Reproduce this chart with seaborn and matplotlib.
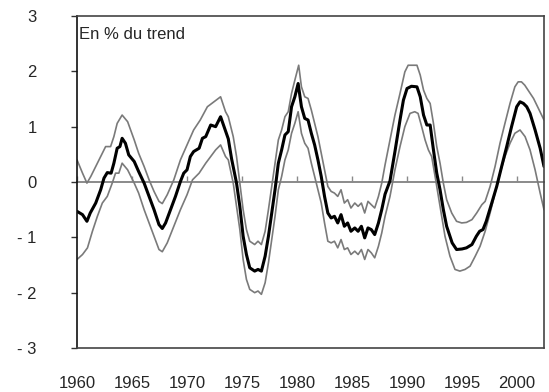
import matplotlib
matplotlib.use("Agg")
import matplotlib.pyplot as plt
import seaborn as sns
import pandas as pd

# Cycle estimate (% deviation from trend) and its upper / lower bands
central_year = [1960.0, 1960.5, 1960.9, 1961.2, 1961.7, 1962.15, 1962.45, 1962.75, 1963.1, 1963.35,
                1963.65, 1963.9, 1964.1, 1964.4, 1964.7, 1965.2, 1965.6, 1966.1, 1966.55, 1967.0,
                1967.45, 1967.75, 1968.05, 1968.5, 1968.95, 1969.4, 1969.7, 1970.0, 1970.3, 1970.6,
                1971.1, 1971.4, 1971.7, 1972.15, 1972.6, 1973.05, 1973.4, 1973.75, 1974.05, 1974.5,
                1974.8, 1975.1, 1975.4, 1975.7, 1976.15, 1976.45, 1976.76, 1977.1, 1977.4, 1977.7,
                1978.0, 1978.3, 1978.6, 1978.9, 1979.2, 1979.5, 1979.8, 1980.1, 1980.4, 1980.7,
                1981.0, 1981.3, 1981.6, 1981.9, 1982.2, 1982.5, 1982.8, 1983.1, 1983.4, 1983.7,
                1984.0, 1984.3, 1984.6, 1984.9, 1985.25, 1985.55, 1985.85, 1986.15, 1986.45, 1986.75,
                1987.06, 1987.4, 1987.7, 1988.0, 1988.45, 1988.9, 1989.36, 1989.67, 1990.0, 1990.4,
                1990.9, 1991.2, 1991.5, 1991.8, 1992.1, 1992.4, 1992.7, 1993.0, 1993.3, 1993.6,
                1994.1, 1994.5, 1995.0, 1995.4, 1995.9, 1996.3, 1996.6, 1996.9, 1997.2, 1997.7,
                1998.15, 1998.6, 1999.06, 1999.5, 1999.97, 2000.27, 2000.58, 2000.88, 2001.18, 2001.64,
                2002.1, 2002.45]
central = [-0.53, -0.59, -0.71, -0.56, -0.38, -0.14, 0.07, 0.17, 0.16, 0.34,
           0.61, 0.64, 0.79, 0.70, 0.49, 0.37, 0.19, -0.02, -0.26, -0.50,
           -0.77, -0.84, -0.74, -0.50, -0.26, 0.01, 0.16, 0.22, 0.46, 0.55,
           0.61, 0.79, 0.82, 1.03, 1.00, 1.18, 0.98, 0.78, 0.42, -0.02,
           -0.44, -0.98, -1.31, -1.55, -1.61, -1.58, -1.61, -1.34, -0.98, -0.56,
           -0.14, 0.34, 0.58, 0.85, 0.91, 1.36, 1.54, 1.78, 1.36, 1.15,
           1.12, 0.88, 0.67, 0.40, 0.10, -0.26, -0.56, -0.65, -0.62, -0.74,
           -0.59, -0.80, -0.74, -0.89, -0.83, -0.89, -0.80, -1.01, -0.83, -0.86,
           -0.95, -0.74, -0.50, -0.22, 0.02, 0.55, 1.12, 1.48, 1.69, 1.73,
           1.72, 1.54, 1.21, 1.03, 1.03, 0.58, 0.16, -0.14, -0.50, -0.80,
           -1.10, -1.22, -1.21, -1.19, -1.13, -0.98, -0.89, -0.86, -0.71, -0.38,
           -0.08, 0.28, 0.64, 1.00, 1.36, 1.45, 1.42, 1.36, 1.24, 0.94,
           0.61, 0.28]

upper_year = [1960.0, 1960.5, 1960.9, 1961.25, 1961.7, 1962.15, 1962.6, 1963.05, 1963.35, 1963.65,
              1964.1, 1964.6, 1965.2, 1965.6, 1966.1, 1966.55, 1967.0, 1967.45, 1967.75, 1968.2,
              1968.8, 1969.4, 1970.0, 1970.6, 1971.2, 1971.85, 1972.45, 1973.05, 1973.5, 1973.75,
              1974.2, 1974.5, 1974.8, 1975.1, 1975.4, 1975.7, 1976.15, 1976.45, 1976.76, 1977.1,
              1977.4, 1977.7, 1978.0, 1978.3, 1978.6, 1978.9, 1979.2, 1979.5, 1979.8, 1980.15,
              1980.4, 1980.7, 1981.0, 1981.3, 1981.6, 1981.9, 1982.2, 1982.5, 1982.8, 1983.1,
              1983.4, 1983.7, 1984.0, 1984.3, 1984.6, 1984.9, 1985.25, 1985.55, 1985.85, 1986.15,
              1986.45, 1986.75, 1987.06, 1987.4, 1987.7, 1988.0, 1988.45, 1988.9, 1989.36, 1989.8,
              1990.1, 1990.55, 1990.9, 1991.2, 1991.5, 1991.8, 1992.1, 1992.4, 1992.7, 1993.0,
              1993.3, 1993.6, 1994.06, 1994.5, 1994.97, 1995.4, 1995.9, 1996.33, 1996.8, 1997.1,
              1997.55, 1998.0, 1998.45, 1998.9, 1999.36, 1999.8, 2000.1, 2000.4, 2000.7, 2001.0,
              2001.5, 2001.94, 2002.45]
upper = [0.40, 0.16, -0.02, 0.10, 0.28, 0.46, 0.64, 0.64, 0.82, 1.06,
         1.21, 1.09, 0.76, 0.52, 0.28, 0.04, -0.17, -0.35, -0.39, -0.23,
         0.04, 0.40, 0.67, 0.94, 1.12, 1.36, 1.45, 1.54, 1.27, 1.18,
         0.82, 0.46, -0.02, -0.50, -0.86, -1.07, -1.13, -1.07, -1.13, -0.89,
         -0.50, -0.08, 0.34, 0.76, 0.94, 1.18, 1.27, 1.60, 1.84, 2.11,
         1.72, 1.54, 1.51, 1.30, 1.06, 0.82, 0.52, 0.22, -0.08, -0.17,
         -0.20, -0.26, -0.14, -0.38, -0.32, -0.47, -0.38, -0.44, -0.38, -0.56,
         -0.35, -0.41, -0.47, -0.26, -0.02, 0.31, 0.76, 1.21, 1.60, 1.99,
         2.11, 2.11, 2.11, 1.93, 1.66, 1.51, 1.42, 1.06, 0.64, 0.34,
         -0.02, -0.32, -0.56, -0.71, -0.74, -0.73, -0.68, -0.56, -0.41, -0.35,
         -0.08, 0.28, 0.70, 1.06, 1.42, 1.72, 1.81, 1.81, 1.75, 1.66,
         1.51, 1.33, 1.12]

lower_year = [1960.0, 1960.5, 1960.95, 1961.4, 1961.85, 1962.3, 1962.75, 1963.2, 1963.5, 1963.8,
              1964.1, 1964.6, 1965.2, 1965.6, 1966.1, 1966.55, 1967.0, 1967.45, 1967.75, 1968.2,
              1968.8, 1969.4, 1970.0, 1970.5, 1971.1, 1971.7, 1972.15, 1972.6, 1973.05, 1973.5,
              1973.75, 1974.2, 1974.5, 1974.8, 1975.1, 1975.4, 1975.7, 1976.15, 1976.45, 1976.76,
              1977.1, 1977.4, 1977.7, 1978.0, 1978.3, 1978.6, 1978.9, 1979.2, 1979.5, 1979.8,
              1980.1, 1980.4, 1980.7, 1981.0, 1981.3, 1981.6, 1981.9, 1982.2, 1982.5, 1982.8,
              1983.1, 1983.4, 1983.7, 1984.0, 1984.3, 1984.6, 1984.9, 1985.25, 1985.55, 1985.85,
              1986.15, 1986.45, 1986.75, 1987.06, 1987.4, 1987.7, 1988.0, 1988.45, 1988.9, 1989.36,
              1989.8, 1990.27, 1990.7, 1991.0, 1991.33, 1991.64, 1991.94, 1992.24, 1992.55, 1992.85,
              1993.15, 1993.45, 1993.9, 1994.36, 1994.8, 1995.27, 1995.73, 1996.2, 1996.64, 1997.1,
              1997.55, 1998.0, 1998.45, 1998.9, 1999.36, 1999.8, 2000.27, 2000.73, 2001.18, 2001.64,
              2002.1, 2002.45]
lower = [-1.40, -1.31, -1.19, -0.89, -0.62, -0.38, -0.26, -0.02, 0.16, 0.16,
         0.34, 0.22, -0.02, -0.20, -0.50, -0.74, -0.98, -1.22, -1.26, -1.10,
         -0.80, -0.50, -0.23, 0.04, 0.16, 0.34, 0.46, 0.58, 0.67, 0.46,
         0.40, -0.02, -0.44, -0.86, -1.40, -1.76, -1.94, -2.00, -1.97, -2.03,
         -1.82, -1.46, -1.04, -0.62, -0.14, 0.10, 0.40, 0.58, 0.88, 1.06,
         1.27, 0.88, 0.70, 0.61, 0.34, 0.10, -0.14, -0.38, -0.74, -1.07,
         -1.10, -1.07, -1.19, -1.04, -1.22, -1.19, -1.31, -1.25, -1.31, -1.22,
         -1.40, -1.22, -1.28, -1.37, -1.16, -0.92, -0.62, -0.26, 0.22, 0.64,
         1.00, 1.24, 1.27, 1.24, 1.00, 0.76, 0.58, 0.46, 0.10, -0.26,
         -0.62, -0.98, -1.34, -1.58, -1.61, -1.58, -1.52, -1.34, -1.16, -0.89,
         -0.56, -0.20, 0.16, 0.46, 0.70, 0.88, 0.94, 0.82, 0.58, 0.22,
         -0.20, -0.50]

x_ticks = [1960, 1965, 1970, 1975, 1980, 1985, 1990, 1995, 2000]
y_ticks = [-3, -2, -1, 0, 1, 2, 3]
y_labels = ["- 3", "- 2", "- 1", "0", "1", "2", "3"]
annotation = "En % du trend"

sns.set_style("white")
plt.rcParams["font.family"] = ["Liberation Sans", "DejaVu Sans"]

df_c = pd.DataFrame({"year": central_year, "value": central})
df_u = pd.DataFrame({"year": upper_year, "value": upper})
df_l = pd.DataFrame({"year": lower_year, "value": lower})

fig = plt.figure(figsize=(5.49, 3.92), dpi=100)
ax = fig.add_axes([0.1403, 0.1122, 0.8506, 0.8470])

band_color = "#7a7a7a"
sns.lineplot(data=df_u, x="year", y="value", ax=ax, color=band_color, lw=1.2, estimator=None)
sns.lineplot(data=df_l, x="year", y="value", ax=ax, color=band_color, lw=1.2, estimator=None)
sns.lineplot(data=df_c, x="year", y="value", ax=ax, color="black", lw=2.2, estimator=None)

ax.set_xlim(1960, 2002.45)
ax.set_ylim(-3, 3)
ax.set_xlabel("")
ax.set_ylabel("")

# y axis: ticks outside on the left frame
ax.set_yticks(y_ticks, labels=y_labels)
ax.tick_params(axis="y", direction="out", length=4, width=1, color="#333333",
               pad=25, labelsize=12, left=True)

# x labels sit well below the frame; the ticks themselves are on the zero line
ax.set_xticks(x_ticks, labels=[str(y) for y in x_ticks])
ax.tick_params(axis="x", length=0, pad=20, labelsize=12)

zero_axis = ax.secondary_xaxis(0.5)
zero_axis.set_xticks(x_ticks, labels=[])
zero_axis.tick_params(direction="out", length=4, width=1, color="#8a8a8a")
for name, sp in zero_axis.spines.items():
    sp.set_color("#8a8a8a")
    sp.set_linewidth(1.4)

for sp in ax.spines.values():
    sp.set_visible(True)
    sp.set_color("#444444")
    sp.set_linewidth(1.2)
ax.spines["left"].set_color("#111111")

ax.text(0.005, 0.945, annotation, transform=ax.transAxes, ha="left", va="center",
        fontsize=12)

fig.savefig("out.png", dpi=100)
